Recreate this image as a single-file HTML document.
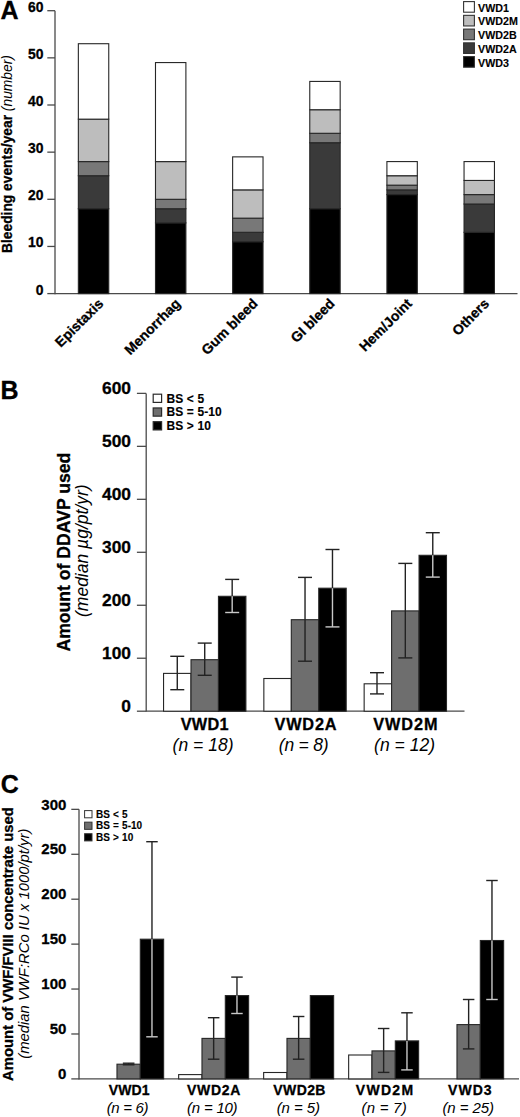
<!DOCTYPE html>
<html><head><meta charset="utf-8"><style>
html,body{margin:0;padding:0;background:#fff;}
body{width:520px;height:1117px;overflow:hidden;}
svg{display:block;font-family:"Liberation Sans", sans-serif;}
text[font-weight=bold]{stroke:#000;stroke-width:0.3px;}
text.lg{stroke-width:0.12px;}
</style></head><body>
<svg width="520" height="1117" viewBox="0 0 520 1117">
<rect x="0" y="0" width="520" height="1117" fill="#fff"/>
<text x="0.6" y="19.3" font-size="25" font-weight="bold" text-anchor="start" fill="#000" style="">A</text>
<line x1="55.00" y1="10.70" x2="55.00" y2="294.20" stroke="#4a4a4a" stroke-width="1.3"/>
<line x1="55.00" y1="293.60" x2="517.50" y2="293.60" stroke="#4a4a4a" stroke-width="1.3"/>
<line x1="47.30" y1="293.60" x2="55.00" y2="293.60" stroke="#4a4a4a" stroke-width="1.3"/>
<text x="43.4" y="294.6" font-size="13.9" font-weight="bold" text-anchor="end" fill="#000" style="">0</text>
<line x1="47.30" y1="246.45" x2="55.00" y2="246.45" stroke="#4a4a4a" stroke-width="1.3"/>
<text x="43.4" y="247.45000000000002" font-size="13.9" font-weight="bold" text-anchor="end" fill="#000" style="">10</text>
<line x1="47.30" y1="199.30" x2="55.00" y2="199.30" stroke="#4a4a4a" stroke-width="1.3"/>
<text x="43.4" y="200.3" font-size="13.9" font-weight="bold" text-anchor="end" fill="#000" style="">20</text>
<line x1="47.30" y1="152.15" x2="55.00" y2="152.15" stroke="#4a4a4a" stroke-width="1.3"/>
<text x="43.4" y="153.15000000000003" font-size="13.9" font-weight="bold" text-anchor="end" fill="#000" style="">30</text>
<line x1="47.30" y1="105.00" x2="55.00" y2="105.00" stroke="#4a4a4a" stroke-width="1.3"/>
<text x="43.4" y="106.00000000000003" font-size="13.9" font-weight="bold" text-anchor="end" fill="#000" style="">40</text>
<line x1="47.30" y1="57.85" x2="55.00" y2="57.85" stroke="#4a4a4a" stroke-width="1.3"/>
<text x="43.4" y="58.85000000000002" font-size="13.9" font-weight="bold" text-anchor="end" fill="#000" style="">50</text>
<line x1="47.30" y1="10.70" x2="55.00" y2="10.70" stroke="#4a4a4a" stroke-width="1.3"/>
<text x="43.4" y="11.700000000000045" font-size="13.9" font-weight="bold" text-anchor="end" fill="#000" style="">60</text>
<text x="0" y="0" font-size="13.8" font-weight="bold" text-anchor="start" fill="#000" style="" transform="translate(11.9,253) rotate(-90)">Bleeding events/year <tspan font-weight="normal" font-style="italic" stroke="none" style="stroke:none">(number)</tspan></text>
<rect x="78.35" y="208.73" width="30.40" height="84.87" fill="#000000" stroke="#262626" stroke-width="1.1"/>
<rect x="78.35" y="175.73" width="30.40" height="33.00" fill="#3a3a3a" stroke="#262626" stroke-width="1.1"/>
<rect x="78.35" y="161.58" width="30.40" height="14.14" fill="#787878" stroke="#262626" stroke-width="1.1"/>
<rect x="78.35" y="119.15" width="30.40" height="42.44" fill="#bdbdbd" stroke="#262626" stroke-width="1.1"/>
<rect x="78.35" y="43.71" width="30.40" height="75.44" fill="#ffffff" stroke="#262626" stroke-width="1.1"/>
<text x="104.25" y="304.5" font-size="14" font-weight="bold" text-anchor="end" fill="#000" style="" transform="rotate(-45 104.25 304.50)">Epistaxis</text>
<rect x="155.49" y="222.88" width="30.40" height="70.72" fill="#000000" stroke="#262626" stroke-width="1.1"/>
<rect x="155.49" y="208.73" width="30.40" height="14.15" fill="#3a3a3a" stroke="#262626" stroke-width="1.1"/>
<rect x="155.49" y="199.30" width="30.40" height="9.43" fill="#787878" stroke="#262626" stroke-width="1.1"/>
<rect x="155.49" y="161.58" width="30.40" height="37.72" fill="#bdbdbd" stroke="#262626" stroke-width="1.1"/>
<rect x="155.49" y="62.57" width="30.40" height="99.02" fill="#ffffff" stroke="#262626" stroke-width="1.1"/>
<text x="181.39000000000001" y="304.5" font-size="14" font-weight="bold" text-anchor="end" fill="#000" style="" transform="rotate(-45 181.39 304.50)">Menorrhag</text>
<rect x="232.63" y="241.74" width="30.40" height="51.87" fill="#000000" stroke="#262626" stroke-width="1.1"/>
<rect x="232.63" y="232.31" width="30.40" height="9.43" fill="#3a3a3a" stroke="#262626" stroke-width="1.1"/>
<rect x="232.63" y="218.16" width="30.40" height="14.14" fill="#787878" stroke="#262626" stroke-width="1.1"/>
<rect x="232.63" y="189.87" width="30.40" height="28.29" fill="#bdbdbd" stroke="#262626" stroke-width="1.1"/>
<rect x="232.63" y="156.87" width="30.40" height="33.00" fill="#ffffff" stroke="#262626" stroke-width="1.1"/>
<text x="258.53" y="304.5" font-size="14" font-weight="bold" text-anchor="end" fill="#000" style="" transform="rotate(-45 258.53 304.50)">Gum bleed</text>
<rect x="309.77" y="208.73" width="30.40" height="84.87" fill="#000000" stroke="#262626" stroke-width="1.1"/>
<rect x="309.77" y="142.72" width="30.40" height="66.01" fill="#3a3a3a" stroke="#262626" stroke-width="1.1"/>
<rect x="309.77" y="133.29" width="30.40" height="9.43" fill="#787878" stroke="#262626" stroke-width="1.1"/>
<rect x="309.77" y="109.72" width="30.40" height="23.57" fill="#bdbdbd" stroke="#262626" stroke-width="1.1"/>
<rect x="309.77" y="81.43" width="30.40" height="28.29" fill="#ffffff" stroke="#262626" stroke-width="1.1"/>
<text x="335.66999999999996" y="304.5" font-size="14" font-weight="bold" text-anchor="end" fill="#000" style="" transform="rotate(-45 335.67 304.50)">GI bleed</text>
<rect x="386.91" y="194.59" width="30.40" height="99.01" fill="#000000" stroke="#262626" stroke-width="1.1"/>
<rect x="386.91" y="189.87" width="30.40" height="4.72" fill="#3a3a3a" stroke="#262626" stroke-width="1.1"/>
<rect x="386.91" y="185.16" width="30.40" height="4.72" fill="#787878" stroke="#262626" stroke-width="1.1"/>
<rect x="386.91" y="175.73" width="30.40" height="9.43" fill="#bdbdbd" stroke="#262626" stroke-width="1.1"/>
<rect x="386.91" y="161.58" width="30.40" height="14.14" fill="#ffffff" stroke="#262626" stroke-width="1.1"/>
<text x="412.80999999999995" y="304.5" font-size="14" font-weight="bold" text-anchor="end" fill="#000" style="" transform="rotate(-45 412.81 304.50)">Hem/Joint</text>
<rect x="464.05" y="232.31" width="30.40" height="61.30" fill="#000000" stroke="#262626" stroke-width="1.1"/>
<rect x="464.05" y="204.02" width="30.40" height="28.29" fill="#3a3a3a" stroke="#262626" stroke-width="1.1"/>
<rect x="464.05" y="194.59" width="30.40" height="9.43" fill="#787878" stroke="#262626" stroke-width="1.1"/>
<rect x="464.05" y="180.44" width="30.40" height="14.15" fill="#bdbdbd" stroke="#262626" stroke-width="1.1"/>
<rect x="464.05" y="161.58" width="30.40" height="18.86" fill="#ffffff" stroke="#262626" stroke-width="1.1"/>
<text x="489.94999999999993" y="304.5" font-size="14" font-weight="bold" text-anchor="end" fill="#000" style="" transform="rotate(-45 489.95 304.50)">Others</text>
<rect x="463.60" y="1.60" width="10.80" height="10.60" fill="#ffffff" stroke="#333" stroke-width="1.1"/>
<text x="478.0" y="11.5" font-size="10.7" font-weight="bold" text-anchor="start" fill="#000" style="" class="lg">VWD1</text>
<rect x="463.60" y="15.35" width="10.80" height="10.60" fill="#bdbdbd" stroke="#333" stroke-width="1.1"/>
<text x="478.0" y="25.25" font-size="10.7" font-weight="bold" text-anchor="start" fill="#000" style="" class="lg">VWD2M</text>
<rect x="463.60" y="29.10" width="10.80" height="10.60" fill="#787878" stroke="#333" stroke-width="1.1"/>
<text x="478.0" y="39.0" font-size="10.7" font-weight="bold" text-anchor="start" fill="#000" style="" class="lg">VWD2B</text>
<rect x="463.60" y="42.85" width="10.80" height="10.60" fill="#3a3a3a" stroke="#333" stroke-width="1.1"/>
<text x="478.0" y="52.75" font-size="10.7" font-weight="bold" text-anchor="start" fill="#000" style="" class="lg">VWD2A</text>
<rect x="463.60" y="56.60" width="10.80" height="10.60" fill="#000000" stroke="#333" stroke-width="1.1"/>
<text x="478.0" y="66.5" font-size="10.7" font-weight="bold" text-anchor="start" fill="#000" style="" class="lg">VWD3</text>
<text x="0.4" y="398.8" font-size="25" font-weight="bold" text-anchor="start" fill="#000" style="">B</text>
<line x1="146.20" y1="393.38" x2="146.20" y2="711.80" stroke="#4a4a4a" stroke-width="1.3"/>
<line x1="146.20" y1="711.20" x2="464.50" y2="711.20" stroke="#4a4a4a" stroke-width="1.3"/>
<line x1="136.90" y1="711.20" x2="146.20" y2="711.20" stroke="#4a4a4a" stroke-width="1.3"/>
<text x="131.0" y="711.5" font-size="17.4" font-weight="bold" text-anchor="end" fill="#000" style="">0</text>
<line x1="136.90" y1="658.23" x2="146.20" y2="658.23" stroke="#4a4a4a" stroke-width="1.3"/>
<text x="131.0" y="658.53" font-size="17.4" font-weight="bold" text-anchor="end" fill="#000" style="">100</text>
<line x1="136.90" y1="605.26" x2="146.20" y2="605.26" stroke="#4a4a4a" stroke-width="1.3"/>
<text x="131.0" y="605.5600000000001" font-size="17.4" font-weight="bold" text-anchor="end" fill="#000" style="">200</text>
<line x1="136.90" y1="552.29" x2="146.20" y2="552.29" stroke="#4a4a4a" stroke-width="1.3"/>
<text x="131.0" y="552.59" font-size="17.4" font-weight="bold" text-anchor="end" fill="#000" style="">300</text>
<line x1="136.90" y1="499.32" x2="146.20" y2="499.32" stroke="#4a4a4a" stroke-width="1.3"/>
<text x="131.0" y="499.62000000000006" font-size="17.4" font-weight="bold" text-anchor="end" fill="#000" style="">400</text>
<line x1="136.90" y1="446.35" x2="146.20" y2="446.35" stroke="#4a4a4a" stroke-width="1.3"/>
<text x="131.0" y="446.6500000000001" font-size="17.4" font-weight="bold" text-anchor="end" fill="#000" style="">500</text>
<line x1="136.90" y1="393.38" x2="146.20" y2="393.38" stroke="#4a4a4a" stroke-width="1.3"/>
<text x="131.0" y="393.68000000000006" font-size="17.4" font-weight="bold" text-anchor="end" fill="#000" style="">600</text>
<text x="0" y="0" font-size="17.6" font-weight="bold" text-anchor="start" fill="#000" style="" transform="translate(70.0,651.5) rotate(-90)">Amount of DDAVP used</text>
<text x="0" y="0" font-size="17.5" font-weight="normal" text-anchor="start" fill="#000" style="font-style:italic;" transform="translate(88.1,617) rotate(-90)">(median µg/pt/yr)</text>
<rect x="163.55" y="673.40" width="27.45" height="37.80" fill="#ffffff" stroke="#262626" stroke-width="1.1"/>
<rect x="191.00" y="659.70" width="27.45" height="51.50" fill="#6e6e6e" stroke="#262626" stroke-width="1.1"/>
<rect x="218.45" y="596.30" width="27.45" height="114.90" fill="#000000" stroke="#262626" stroke-width="1.1"/>
<line x1="177.28" y1="656.30" x2="177.28" y2="673.40" stroke="#222" stroke-width="1.4"/>
<line x1="170.28" y1="656.30" x2="184.28" y2="656.30" stroke="#222" stroke-width="1.4"/>
<line x1="177.28" y1="673.40" x2="177.28" y2="689.70" stroke="#222" stroke-width="1.4"/>
<line x1="170.28" y1="689.70" x2="184.28" y2="689.70" stroke="#222" stroke-width="1.4"/>
<line x1="204.72" y1="643.10" x2="204.72" y2="659.70" stroke="#222" stroke-width="1.4"/>
<line x1="197.72" y1="643.10" x2="211.72" y2="643.10" stroke="#222" stroke-width="1.4"/>
<line x1="204.72" y1="659.70" x2="204.72" y2="675.30" stroke="#222" stroke-width="1.4"/>
<line x1="197.72" y1="675.30" x2="211.72" y2="675.30" stroke="#222" stroke-width="1.4"/>
<line x1="232.18" y1="579.40" x2="232.18" y2="596.30" stroke="#222" stroke-width="1.4"/>
<line x1="225.18" y1="579.40" x2="239.18" y2="579.40" stroke="#222" stroke-width="1.4"/>
<line x1="232.18" y1="596.30" x2="232.18" y2="612.50" stroke="#c8c8c8" stroke-width="1.4"/>
<line x1="225.18" y1="612.50" x2="239.18" y2="612.50" stroke="#c8c8c8" stroke-width="1.4"/>
<text x="180.7" y="730.2" font-size="16.3" font-weight="bold" text-anchor="start" fill="#000" style="" letter-spacing="0.267">VWD1</text>
<text x="172.5" y="751.0" font-size="17.5" font-weight="normal" text-anchor="start" fill="#000" style="font-style:italic;" letter-spacing="0.057">(n = 18)</text>
<rect x="263.85" y="678.50" width="27.45" height="32.70" fill="#ffffff" stroke="#262626" stroke-width="1.1"/>
<rect x="291.30" y="619.70" width="27.45" height="91.50" fill="#6e6e6e" stroke="#262626" stroke-width="1.1"/>
<rect x="318.75" y="588.20" width="27.45" height="123.00" fill="#000000" stroke="#262626" stroke-width="1.1"/>
<line x1="305.03" y1="577.40" x2="305.03" y2="619.70" stroke="#222" stroke-width="1.4"/>
<line x1="298.03" y1="577.40" x2="312.03" y2="577.40" stroke="#222" stroke-width="1.4"/>
<line x1="305.03" y1="619.70" x2="305.03" y2="661.20" stroke="#222" stroke-width="1.4"/>
<line x1="298.03" y1="661.20" x2="312.03" y2="661.20" stroke="#222" stroke-width="1.4"/>
<line x1="332.48" y1="549.50" x2="332.48" y2="588.20" stroke="#222" stroke-width="1.4"/>
<line x1="325.48" y1="549.50" x2="339.48" y2="549.50" stroke="#222" stroke-width="1.4"/>
<line x1="332.48" y1="588.20" x2="332.48" y2="626.90" stroke="#c8c8c8" stroke-width="1.4"/>
<line x1="325.48" y1="626.90" x2="339.48" y2="626.90" stroke="#c8c8c8" stroke-width="1.4"/>
<text x="274.5" y="730.2" font-size="16.3" font-weight="bold" text-anchor="start" fill="#000" style="" letter-spacing="0.800">VWD2A</text>
<text x="278.8" y="751.0" font-size="17.5" font-weight="normal" text-anchor="start" fill="#000" style="font-style:italic;" letter-spacing="-0.200">(n = 8)</text>
<rect x="364.15" y="683.80" width="27.45" height="27.40" fill="#ffffff" stroke="#262626" stroke-width="1.1"/>
<rect x="391.60" y="610.90" width="27.45" height="100.30" fill="#6e6e6e" stroke="#262626" stroke-width="1.1"/>
<rect x="419.05" y="555.30" width="27.45" height="155.90" fill="#000000" stroke="#262626" stroke-width="1.1"/>
<line x1="377.00" y1="672.70" x2="377.00" y2="683.80" stroke="#222" stroke-width="1.4"/>
<line x1="370.00" y1="672.70" x2="384.00" y2="672.70" stroke="#222" stroke-width="1.4"/>
<line x1="377.00" y1="683.80" x2="377.00" y2="693.90" stroke="#222" stroke-width="1.4"/>
<line x1="370.00" y1="693.90" x2="384.00" y2="693.90" stroke="#222" stroke-width="1.4"/>
<line x1="405.32" y1="563.40" x2="405.32" y2="610.90" stroke="#222" stroke-width="1.4"/>
<line x1="398.32" y1="563.40" x2="412.32" y2="563.40" stroke="#222" stroke-width="1.4"/>
<line x1="405.32" y1="610.90" x2="405.32" y2="657.90" stroke="#222" stroke-width="1.4"/>
<line x1="398.32" y1="657.90" x2="412.32" y2="657.90" stroke="#222" stroke-width="1.4"/>
<line x1="432.77" y1="532.70" x2="432.77" y2="555.30" stroke="#222" stroke-width="1.4"/>
<line x1="425.77" y1="532.70" x2="439.77" y2="532.70" stroke="#222" stroke-width="1.4"/>
<line x1="432.77" y1="555.30" x2="432.77" y2="577.10" stroke="#c8c8c8" stroke-width="1.4"/>
<line x1="425.77" y1="577.10" x2="439.77" y2="577.10" stroke="#c8c8c8" stroke-width="1.4"/>
<text x="373.2" y="730.2" font-size="16.3" font-weight="bold" text-anchor="start" fill="#000" style="" letter-spacing="0.950">VWD2M</text>
<text x="374.0" y="751.0" font-size="17.5" font-weight="normal" text-anchor="start" fill="#000" style="font-style:italic;" letter-spacing="0.057">(n = 12)</text>
<rect x="153.20" y="394.20" width="8.40" height="8.20" fill="#ffffff" stroke="#2a2a2a" stroke-width="1.2"/>
<text x="166.5" y="402.7" font-size="12" font-weight="bold" text-anchor="start" fill="#000" style="" class="lg" word-spacing="0.35">BS &lt; 5</text>
<rect x="153.20" y="407.95" width="8.40" height="8.20" fill="#6e6e6e" stroke="#2a2a2a" stroke-width="1.2"/>
<text x="166.5" y="416.45" font-size="12" font-weight="bold" text-anchor="start" fill="#000" style="" class="lg" word-spacing="0.35">BS = 5-10</text>
<rect x="153.20" y="421.70" width="8.40" height="8.20" fill="#000000" stroke="#2a2a2a" stroke-width="1.2"/>
<text x="166.5" y="430.2" font-size="12" font-weight="bold" text-anchor="start" fill="#000" style="" class="lg" word-spacing="0.35">BS &gt; 10</text>
<text x="0.8" y="793.4" font-size="25" font-weight="bold" text-anchor="start" fill="#000" style="">C</text>
<line x1="79.00" y1="809.35" x2="79.00" y2="1079.50" stroke="#4a4a4a" stroke-width="1.3"/>
<line x1="79.00" y1="1078.90" x2="519.00" y2="1078.90" stroke="#4a4a4a" stroke-width="1.3"/>
<line x1="71.30" y1="1078.90" x2="79.00" y2="1078.90" stroke="#4a4a4a" stroke-width="1.3"/>
<text x="66.4" y="1079.1000000000001" font-size="15.0" font-weight="bold" text-anchor="end" fill="#000" style="">0</text>
<line x1="71.30" y1="1033.98" x2="79.00" y2="1033.98" stroke="#4a4a4a" stroke-width="1.3"/>
<text x="66.4" y="1034.1750000000002" font-size="15.0" font-weight="bold" text-anchor="end" fill="#000" style="">50</text>
<line x1="71.30" y1="989.05" x2="79.00" y2="989.05" stroke="#4a4a4a" stroke-width="1.3"/>
<text x="66.4" y="989.2500000000001" font-size="15.0" font-weight="bold" text-anchor="end" fill="#000" style="">100</text>
<line x1="71.30" y1="944.13" x2="79.00" y2="944.13" stroke="#4a4a4a" stroke-width="1.3"/>
<text x="66.4" y="944.3250000000002" font-size="15.0" font-weight="bold" text-anchor="end" fill="#000" style="">150</text>
<line x1="71.30" y1="899.20" x2="79.00" y2="899.20" stroke="#4a4a4a" stroke-width="1.3"/>
<text x="66.4" y="899.4000000000001" font-size="15.0" font-weight="bold" text-anchor="end" fill="#000" style="">200</text>
<line x1="71.30" y1="854.28" x2="79.00" y2="854.28" stroke="#4a4a4a" stroke-width="1.3"/>
<text x="66.4" y="854.4750000000001" font-size="15.0" font-weight="bold" text-anchor="end" fill="#000" style="">250</text>
<line x1="71.30" y1="809.35" x2="79.00" y2="809.35" stroke="#4a4a4a" stroke-width="1.3"/>
<text x="66.4" y="809.5500000000002" font-size="15.0" font-weight="bold" text-anchor="end" fill="#000" style="">300</text>
<text x="0" y="0" font-size="14.85" font-weight="bold" text-anchor="start" fill="#000" style="" transform="translate(13.4,1081) rotate(-90)">Amount of VWF/FVIII concentrate used</text>
<text x="0" y="0" font-size="14.85" font-weight="normal" text-anchor="start" fill="#000" style="font-style:italic;" transform="translate(28.9,1058.8) rotate(-90)">(median VWF:RCo IU x 1000/pt/yr)</text>
<rect x="116.98" y="1064.20" width="23.33" height="14.70" fill="#6e6e6e" stroke="#262626" stroke-width="1.1"/>
<rect x="140.31" y="939.20" width="23.33" height="139.70" fill="#000000" stroke="#262626" stroke-width="1.1"/>
<line x1="128.65" y1="1063.20" x2="128.65" y2="1064.20" stroke="#222" stroke-width="1.4"/>
<line x1="122.85" y1="1063.20" x2="134.45" y2="1063.20" stroke="#222" stroke-width="1.4"/>
<line x1="128.65" y1="1064.20" x2="128.65" y2="1064.80" stroke="#222" stroke-width="1.4"/>
<line x1="122.85" y1="1064.80" x2="134.45" y2="1064.80" stroke="#222" stroke-width="1.4"/>
<line x1="151.97" y1="841.70" x2="151.97" y2="939.20" stroke="#222" stroke-width="1.4"/>
<line x1="146.22" y1="841.70" x2="157.72" y2="841.70" stroke="#222" stroke-width="1.4"/>
<line x1="151.97" y1="939.20" x2="151.97" y2="1036.80" stroke="#c8c8c8" stroke-width="1.4"/>
<line x1="146.22" y1="1036.80" x2="157.72" y2="1036.80" stroke="#c8c8c8" stroke-width="1.4"/>
<text x="108.8" y="1094.7" font-size="14" font-weight="bold" text-anchor="start" fill="#000" style="" letter-spacing="0.067">VWD1</text>
<text x="106.7" y="1112.6" font-size="15" font-weight="normal" text-anchor="start" fill="#000" style="font-style:italic;" letter-spacing="-0.333">(n = 6)</text>
<rect x="178.65" y="1074.60" width="23.33" height="4.30" fill="#ffffff" stroke="#262626" stroke-width="1.1"/>
<rect x="201.98" y="1038.40" width="23.33" height="40.50" fill="#6e6e6e" stroke="#262626" stroke-width="1.1"/>
<rect x="225.31" y="995.60" width="23.33" height="83.30" fill="#000000" stroke="#262626" stroke-width="1.1"/>
<line x1="213.65" y1="1017.70" x2="213.65" y2="1038.40" stroke="#222" stroke-width="1.4"/>
<line x1="207.90" y1="1017.70" x2="219.40" y2="1017.70" stroke="#222" stroke-width="1.4"/>
<line x1="213.65" y1="1038.40" x2="213.65" y2="1059.20" stroke="#222" stroke-width="1.4"/>
<line x1="207.90" y1="1059.20" x2="219.40" y2="1059.20" stroke="#222" stroke-width="1.4"/>
<line x1="236.97" y1="977.10" x2="236.97" y2="995.60" stroke="#222" stroke-width="1.4"/>
<line x1="231.22" y1="977.10" x2="242.72" y2="977.10" stroke="#222" stroke-width="1.4"/>
<line x1="236.97" y1="995.60" x2="236.97" y2="1013.50" stroke="#c8c8c8" stroke-width="1.4"/>
<line x1="231.22" y1="1013.50" x2="242.72" y2="1013.50" stroke="#c8c8c8" stroke-width="1.4"/>
<text x="187.1" y="1094.7" font-size="14" font-weight="bold" text-anchor="start" fill="#000" style="" letter-spacing="0.650">VWD2A</text>
<text x="187.1" y="1112.6" font-size="15" font-weight="normal" text-anchor="start" fill="#000" style="font-style:italic;" letter-spacing="-0.229">(n = 10)</text>
<rect x="263.65" y="1072.50" width="23.33" height="6.40" fill="#ffffff" stroke="#262626" stroke-width="1.1"/>
<rect x="286.98" y="1038.40" width="23.33" height="40.50" fill="#6e6e6e" stroke="#262626" stroke-width="1.1"/>
<rect x="310.31" y="995.60" width="23.33" height="83.30" fill="#000000" stroke="#262626" stroke-width="1.1"/>
<line x1="298.64" y1="1016.50" x2="298.64" y2="1038.40" stroke="#222" stroke-width="1.4"/>
<line x1="292.89" y1="1016.50" x2="304.39" y2="1016.50" stroke="#222" stroke-width="1.4"/>
<line x1="298.64" y1="1038.40" x2="298.64" y2="1059.20" stroke="#222" stroke-width="1.4"/>
<line x1="292.89" y1="1059.20" x2="304.39" y2="1059.20" stroke="#222" stroke-width="1.4"/>
<text x="273.3" y="1094.7" font-size="14" font-weight="bold" text-anchor="start" fill="#000" style="" letter-spacing="0.400">VWD2B</text>
<text x="276.7" y="1112.6" font-size="15" font-weight="normal" text-anchor="start" fill="#000" style="font-style:italic;" letter-spacing="-0.067">(n = 5)</text>
<rect x="348.65" y="1055.00" width="23.33" height="23.90" fill="#ffffff" stroke="#262626" stroke-width="1.1"/>
<rect x="371.98" y="1050.90" width="23.33" height="28.00" fill="#6e6e6e" stroke="#262626" stroke-width="1.1"/>
<rect x="395.31" y="1040.90" width="23.33" height="38.00" fill="#000000" stroke="#262626" stroke-width="1.1"/>
<line x1="383.64" y1="1028.50" x2="383.64" y2="1050.90" stroke="#222" stroke-width="1.4"/>
<line x1="377.89" y1="1028.50" x2="389.39" y2="1028.50" stroke="#222" stroke-width="1.4"/>
<line x1="383.64" y1="1050.90" x2="383.64" y2="1072.40" stroke="#222" stroke-width="1.4"/>
<line x1="377.89" y1="1072.40" x2="389.39" y2="1072.40" stroke="#222" stroke-width="1.4"/>
<line x1="406.97" y1="1012.80" x2="406.97" y2="1040.90" stroke="#222" stroke-width="1.4"/>
<line x1="401.22" y1="1012.80" x2="412.72" y2="1012.80" stroke="#222" stroke-width="1.4"/>
<line x1="406.97" y1="1040.90" x2="406.97" y2="1069.90" stroke="#c8c8c8" stroke-width="1.4"/>
<line x1="401.22" y1="1069.90" x2="412.72" y2="1069.90" stroke="#c8c8c8" stroke-width="1.4"/>
<text x="355.8" y="1094.7" font-size="14" font-weight="bold" text-anchor="start" fill="#000" style="" letter-spacing="1.300">VWD2M</text>
<text x="361.5" y="1112.6" font-size="15" font-weight="normal" text-anchor="start" fill="#000" style="font-style:italic;" letter-spacing="0.233">(n = 7)</text>
<rect x="456.98" y="1024.60" width="23.33" height="54.30" fill="#6e6e6e" stroke="#262626" stroke-width="1.1"/>
<rect x="480.31" y="940.50" width="23.33" height="138.40" fill="#000000" stroke="#262626" stroke-width="1.1"/>
<line x1="468.64" y1="999.50" x2="468.64" y2="1024.60" stroke="#222" stroke-width="1.4"/>
<line x1="462.89" y1="999.50" x2="474.39" y2="999.50" stroke="#222" stroke-width="1.4"/>
<line x1="468.64" y1="1024.60" x2="468.64" y2="1048.90" stroke="#222" stroke-width="1.4"/>
<line x1="462.89" y1="1048.90" x2="474.39" y2="1048.90" stroke="#222" stroke-width="1.4"/>
<line x1="491.97" y1="880.50" x2="491.97" y2="940.50" stroke="#222" stroke-width="1.4"/>
<line x1="486.22" y1="880.50" x2="497.72" y2="880.50" stroke="#222" stroke-width="1.4"/>
<line x1="491.97" y1="940.50" x2="491.97" y2="999.50" stroke="#c8c8c8" stroke-width="1.4"/>
<line x1="486.22" y1="999.50" x2="497.72" y2="999.50" stroke="#c8c8c8" stroke-width="1.4"/>
<text x="448.0" y="1094.7" font-size="14" font-weight="bold" text-anchor="start" fill="#000" style="" letter-spacing="1.067">VWD3</text>
<text x="442.4" y="1112.6" font-size="15" font-weight="normal" text-anchor="start" fill="#000" style="font-style:italic;" letter-spacing="-0.086">(n = 25)</text>
<rect x="84.60" y="810.60" width="7.40" height="7.20" fill="#ffffff" stroke="#333" stroke-width="1.0"/>
<text x="96.0" y="817.9" font-size="10" font-weight="bold" text-anchor="start" fill="#000" style="" class="lg" word-spacing="0.4">BS &lt; 5</text>
<rect x="84.60" y="822.15" width="7.40" height="7.20" fill="#6e6e6e" stroke="#333" stroke-width="1.0"/>
<text x="96.0" y="829.4499999999999" font-size="10" font-weight="bold" text-anchor="start" fill="#000" style="" class="lg" word-spacing="0.4">BS = 5-10</text>
<rect x="84.60" y="833.70" width="7.40" height="7.20" fill="#000000" stroke="#333" stroke-width="1.0"/>
<text x="96.0" y="841.0" font-size="10" font-weight="bold" text-anchor="start" fill="#000" style="" class="lg" word-spacing="0.4">BS &gt; 10</text>
</svg>
</body></html>
